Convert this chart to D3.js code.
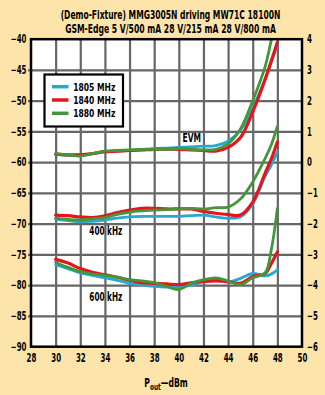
<!DOCTYPE html>
<html><head><meta charset="utf-8">
<script src="https://cdn.jsdelivr.net/npm/d3@7"></script>
<style>
html,body{margin:0;padding:0;background:#fde4ab;}
svg{display:block;}
text{font-family:"DejaVu Sans Condensed","Liberation Sans",sans-serif;font-weight:bold;fill:#000;}
</style></head>
<body>
<svg id="c" width="325" height="395"></svg>
<script>
// ---- data ----
const pout = [30,31,32,33,34,35,36,37,38,39,40,41,42,43,44,45,46,47,47.5,48];
const freqs = ["1805 MHz","1840 MHz","1880 MHz"];
const colors = ["#26a8d0","#e3161e","#43973a"];
// EVM (right axis, %)
const evm1805 = [0.26,0.22,0.24,0.28,0.34,0.36,0.38,0.40,0.44,0.46,0.48,0.50,0.52,0.54,0.68,1.04,1.76,2.70,3.24,3.84];
const evm1840 = [0.26,0.24,0.24,0.28,0.34,0.36,0.38,0.40,0.42,0.42,0.42,0.40,0.38,0.36,0.48,0.80,1.64,2.68,3.28,3.90];
const evm1880 = [0.28,0.24,0.20,0.28,0.36,0.38,0.40,0.42,0.42,0.42,0.44,0.42,0.40,0.42,0.60,1.08,2.00,3.10,3.96,4.80];
// 400 kHz spectrum (left axis, dBc)
const s400_1805 = [-69.3,-69.5,-69.7,-69.6,-69.4,-69.1,-68.9,-68.8,-68.8,-68.8,-68.8,-68.7,-68.6,-68.9,-69.1,-68.9,-66.8,-62.3,-60.5,-58.3];
const s400_1840 = [-68.6,-68.7,-68.9,-69.0,-68.7,-68.2,-67.8,-67.5,-67.5,-67.6,-67.6,-67.6,-68.0,-68.3,-68.5,-68.6,-66.5,-61.8,-59.5,-56.7];
const s400_1880 = [-69.1,-69.3,-69.4,-69.2,-69.0,-68.5,-68.1,-67.9,-67.8,-67.7,-67.6,-67.5,-67.6,-67.4,-67.3,-66.0,-63.2,-59.4,-57.2,-54.2];
// 600 kHz spectrum (left axis, dBc)
const s600_1805 = [-76.7,-77.3,-78.0,-78.4,-78.8,-79.2,-79.7,-80.0,-80.2,-80.3,-80.3,-80.0,-79.4,-79.1,-79.5,-78.9,-78.1,-78.5,-78.2,-77.5];
const s600_1840 = [-75.8,-76.4,-77.3,-77.9,-78.3,-78.7,-79.2,-79.6,-79.7,-79.8,-79.9,-79.6,-79.4,-79.3,-79.4,-79.7,-78.6,-78.1,-76.5,-74.6];
const s600_1880 = [-76.3,-77.1,-77.8,-78.2,-78.4,-78.7,-79.1,-79.3,-79.6,-80.2,-80.7,-79.7,-79.1,-78.8,-79.3,-79.9,-78.8,-78.0,-74.3,-67.5];
const xTicks = [28,30,32,34,36,38,40,42,44,46,48,50];
const leftTicks = [-90,-85,-80,-75,-70,-65,-60,-55,-50,-45,-40];
const rightTicks = [-6,-5,-4,-3,-2,-1,0,1,2,3,4];
const titleLines = ["(Demo-Fixture) MMG3005N driving MW71C 18100N","GSM-Edge 5 V/500 mA 28 V/215 mA 28 V/800 mA"];

// ---- layout ----
const L=31, R=302, T=39.2, B=346.7;
const SQ=0.68; // horizontal condensing of glyphs
const svg = d3.select("#c");
const x = d3.scaleLinear().domain([28,50]).range([L,R]);
const yL = d3.scaleLinear().domain([-90,-40]).range([B,T]);
const yR = d3.scaleLinear().domain([-6,4]).range([B,T]);
function condense(sel,f){sel.each(function(){const w=this.getComputedTextLength();
  d3.select(this).attr("textLength",w*f).attr("lengthAdjust","spacingAndGlyphs");});}
function fitW(sel,w){sel.attr("textLength",w).attr("lengthAdjust","spacingAndGlyphs");}

svg.append("rect").attr("width",325).attr("height",395).attr("fill","#fde4ab");
svg.append("rect").attr("x",L).attr("y",T).attr("width",R-L).attr("height",B-T).attr("fill","#fff");

// title (horizontally scaled to the reference width)
const tW=[220,211];
svg.selectAll("text.title").data(titleLines).join("text").attr("class","title")
  .attr("x",0).attr("y",0).attr("text-anchor","middle")
  .attr("font-size",11.5).text(d=>d)
  .each(function(d,i){const w=this.getComputedTextLength();
    d3.select(this).attr("transform",`translate(170.5,${18.8+i*14}) scale(${tW[i]/w},1)`);});

// grid
const grid = svg.append("g");
grid.append("g").attr("transform",`translate(0,${B})`)
  .call(d3.axisBottom(x).tickValues(xTicks.slice(1,-1)).tickSize(-(B-T)).tickFormat(""))
  .call(g=>{g.select(".domain").remove();g.selectAll("line").attr("stroke","#666").attr("stroke-width",2.2);});
grid.append("g").attr("transform",`translate(${L},0)`)
  .call(d3.axisLeft(yL).tickValues(leftTicks.slice(1,-1)).tickSize(-(R-L)).tickFormat(""))
  .call(g=>{g.select(".domain").remove();g.selectAll("line").attr("stroke","#666").attr("stroke-width",2.2).attr("x1",-3);});

// clip
svg.append("clipPath").attr("id","clip").append("rect")
  .attr("x",L).attr("y",T).attr("width",R-L).attr("height",B-T);

const plot = svg.append("g").attr("clip-path","url(#clip)");
const lineL = d3.line().x((d,i)=>x(pout[i])).y(d=>yL(d)).curve(d3.curveCatmullRom);
const lineR = d3.line().x((d,i)=>x(pout[i])).y(d=>yR(d)).curve(d3.curveCatmullRom);
const groups = [
  {scale:"L", series:[s600_1805,s600_1840,s600_1880]},
  {scale:"L", series:[s400_1805,s400_1840,s400_1880]},
  {scale:"R", series:[evm1805,evm1840,evm1880]}
];
groups.forEach(g=>{
  g.series.forEach((s,k)=>{
    plot.append("path").attr("d",(g.scale==="L"?lineL:lineR)(s))
      .attr("fill","none").attr("stroke",colors[k]).attr("stroke-width",k===1?3.2:2.8)
      .attr("stroke-linejoin","round").attr("stroke-linecap","round");
  });
});

// border
svg.append("rect").attr("x",L).attr("y",T).attr("width",R-L).attr("height",B-T)
  .attr("fill","none").attr("stroke","#000").attr("stroke-width",2.5);

// axes labels
const fmt = d3.format("d");
const axL = svg.append("g").attr("transform",`translate(${L},0)`)
  .call(d3.axisLeft(yL).tickValues(leftTicks).tickSize(0).tickPadding(4.5).tickFormat(fmt));
const axR = svg.append("g").attr("transform",`translate(${R},0)`)
  .call(d3.axisRight(yR).tickValues(rightTicks).tickSize(0).tickPadding(5).tickFormat(fmt));
const axB = svg.append("g").attr("transform",`translate(0,${B})`)
  .call(d3.axisBottom(x).tickValues(xTicks).tickSize(0).tickPadding(7).tickFormat(fmt));
[axL,axR,axB].forEach(a=>{a.select(".domain").remove();
  a.selectAll("text").attr("font-size",11.5).attr("font-weight","bold")
   .attr("font-family",'"DejaVu Sans Condensed",sans-serif').attr("fill","#000");
  condense(a.selectAll("text"),SQ);});

// x label
const xl = svg.append("text").attr("x",166).attr("y",387).attr("text-anchor","middle")
  .attr("font-size",12.5);
xl.append("tspan").text("P");
xl.append("tspan").attr("font-size",9.5).attr("dy",3).text("out");
xl.append("tspan").attr("dy",-3).text("\u2014dBm");
xl.attr("transform",`translate(166,0) scale(${SQ},1) translate(-166,0)`);

// curve labels
const lbl = [["EVM",182.5,141.7,18.5],["400 kHz",89.3,235,33],["600 kHz",89.3,300.5,33]];
svg.selectAll("text.lbl").data(lbl).join("text").attr("class","lbl")
  .attr("x",d=>d[1]).attr("y",d=>d[2]).attr("font-size",11.5).text(d=>d[0])
  .each(function(d){fitW(d3.select(this),d[3]);});

// legend
const lg = svg.append("g");
lg.append("rect").attr("x",44.5).attr("y",74.5).attr("width",78.5).attr("height",52)
  .attr("fill","#fff").attr("stroke","#000").attr("stroke-width",2.2);
freqs.forEach((f,i)=>{
  const yy = 86.7+i*13.3;
  lg.append("line").attr("x1",52).attr("x2",68.5).attr("y1",yy).attr("y2",yy)
    .attr("stroke",colors[i]).attr("stroke-width",3.5);
  lg.append("text").attr("x",73.3).attr("y",yy+4).attr("font-size",11).text(f)
    .call(s=>fitW(s,42));
});
</script>
</body></html>
